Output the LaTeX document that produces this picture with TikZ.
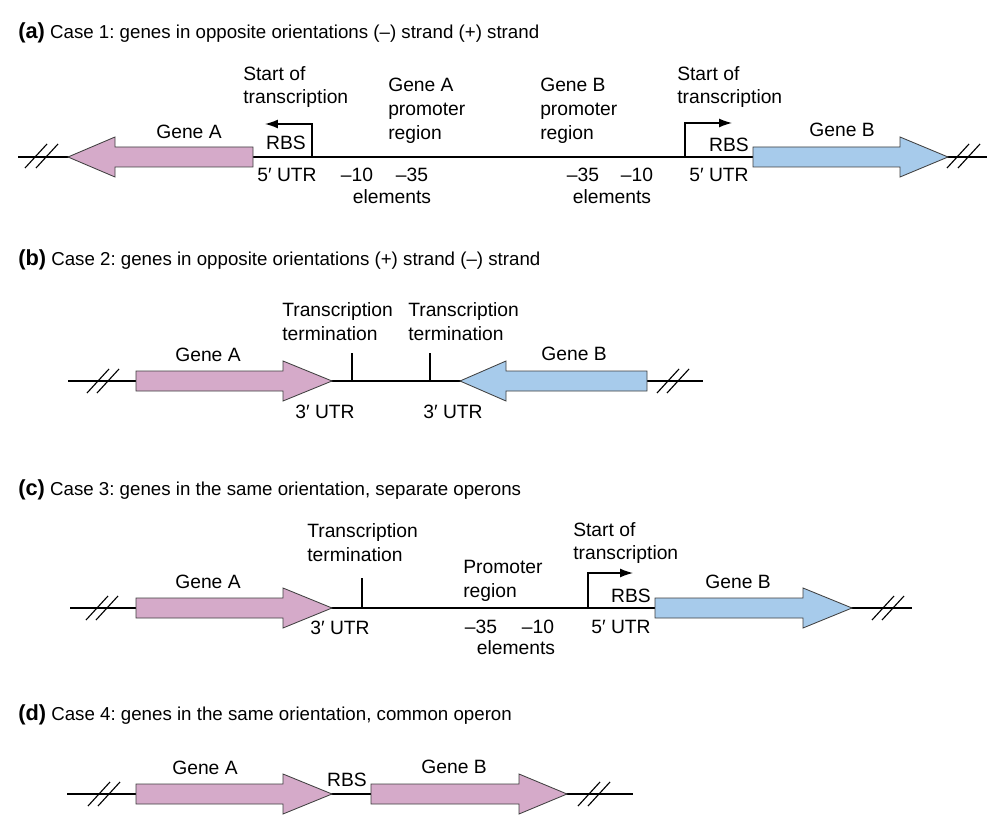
\documentclass[tikz,border=0pt]{standalone}
\usepackage{fontspec}
\setmainfont{Liberation Sans}
\usetikzlibrary{arrows.meta}
\definecolor{genepink}{RGB}{213,170,201}
\definecolor{geneblue}{RGB}{167,203,235}
\frenchspacing

\begin{document}
\begin{tikzpicture}[x=0.025cm, y=-0.025cm,
    dna/.style={line width=1pt},
    brk/.style={line width=0.8pt},
    gene/.style={draw=black!75, line width=0.6pt},
    lbl/.style={inner sep=0pt, font=\fontsize{13.7}{17}\selectfont},
    ml/.style={lbl, align=left, anchor=west},
    ttl/.style={inner sep=0pt, anchor=west, font=\fontsize{13.3}{16}\selectfont},
    tss/.style={line width=0.9pt, -{Latex[length=3.2mm,width=2.2mm]}}]
    \useasboundingbox[fill=white] (0,0) rectangle (1000,840);
    % (a)
    \node[ttl] (ta) at (18,33) {{\fontsize{15.5}{16}\selectfont\bfseries(a)} Case 1: genes in opposite orientations (--) strand (+) strand};
    \coordinate (a0) at (18,157); \coordinate (a1) at (987,157);
    \draw[dna] (a0) -- (a1);
    \draw[brk] (25,168) -- (47,144) (36,168) -- (58,144) (947,168) -- (969,144) (958,168) -- (980,144);
    \draw[gene, fill=genepink] (253,147) -- (115,147) -- (115,137) -- (68,157) -- (115,177) -- (115,167) -- (253,167) -- cycle;
    \draw[gene, fill=geneblue] (753,147) -- (900,147) -- (900,137) -- (948,157) -- (900,177) -- (900,167) -- (753,167) -- cycle;
    \coordinate (tssA) at (312,157); \coordinate (tssB) at (685,157);
    \draw[tss] (tssA) -- ++(0,-33) -- ++(-47,0);
    \draw[tss] (tssB) -- ++(0,-34) -- ++(47,0);
    \node[lbl] (geneAa) at (189,132) {Gene A};
    \node[ml] (startA) at (243,87) {Start of\\transcription};
    \node[lbl] (rbsA) at (286,143) {RBS};
    \node[lbl] (utrA) at (287,175) {5′ UTR};
    \node[lbl] (tenA) at (357,175) {--10};
    \node[lbl] (tfA) at (412,175) {--35};
    \node[lbl] (elA) at (392,197) {elements};
    \node[ml] (promA) at (388,111) {Gene A\\promoter\\region};
    \node[ml] (promB) at (540,111) {Gene B\\promoter\\region};
    \node[lbl] (tfB) at (583,175) {--35};
    \node[lbl] (tenB) at (637,175) {--10};
    \node[lbl] (elB) at (612,197) {elements};
    \node[ml] (startB) at (677,87) {Start of\\transcription};
    \node[lbl] (rbsB) at (729,145) {RBS};
    \node[lbl] (utrB) at (719,175) {5′ UTR};
    \node[lbl] (geneBa) at (842,130) {Gene B};
    % (b)
    \node[ttl] (tb) at (18,260) {{\fontsize{15.5}{16}\selectfont\bfseries(b)} Case 2: genes in opposite orientations (+) strand (--) strand};
    \coordinate (b0) at (68,381); \coordinate (b1) at (703,381);
    \draw[dna] (b0) -- (b1);
    \draw[brk] (87,393) -- (109,369) (97,393) -- (119,369) (657,393) -- (679,369) (667,393) -- (689,369);
    \draw[gene, fill=genepink] (136,371) -- (283,371) -- (283,361) -- (332,381) -- (283,401) -- (283,391) -- (136,391) -- cycle;
    \draw[gene, fill=geneblue] (647,371) -- (506,371) -- (506,361) -- (460,381) -- (506,401) -- (506,391) -- (647,391) -- cycle;
    \coordinate (termA) at (352,381); \coordinate (termB) at (430,381);
    \draw[dna] (termA) -- ++(0,-28) (termB) -- ++(0,-28);
    \node[ml] (trmA) at (282,322) {Transcription\\termination};
    \node[ml] (trmB) at (408,322) {Transcription\\termination};
    \node[lbl] (geneAb) at (208,355) {Gene A};
    \node[lbl] (geneBb) at (574,354) {Gene B};
    \node[lbl] (utrAb) at (325,412) {3′ UTR};
    \node[lbl] (utrBb) at (453,412) {3′ UTR};
    % (c)
    \node[ttl] (tc) at (18,490) {{\fontsize{15.5}{16}\selectfont\bfseries(c)} Case 3: genes in the same orientation, separate operons};
    \coordinate (c0) at (70,608); \coordinate (c1) at (912,608);
    \draw[dna] (c0) -- (c1);
    \draw[brk] (86,620) -- (108,596) (96,620) -- (118,596) (872,620) -- (894,596) (882,620) -- (904,596);
    \draw[gene, fill=genepink] (136,598) -- (283,598) -- (283,588) -- (332,608) -- (283,628) -- (283,618) -- (136,618) -- cycle;
    \draw[gene, fill=geneblue] (655,598) -- (803,598) -- (803,588) -- (852,608) -- (803,628) -- (803,618) -- (655,618) -- cycle;
    \coordinate (termC) at (362,608); \coordinate (tssC) at (588,608);
    \draw[dna] (termC) -- ++(0,-30);
    \draw[tss] (tssC) -- ++(0,-35) -- ++(45,0);
    \node[ml] (trmC) at (307,543) {Transcription\\termination};
    \node[lbl] (geneAc) at (208,582) {Gene A};
    \node[lbl] (utrAc) at (340,628) {3′ UTR};
    \node[ml] (promC) at (463,581) {Promoter\\region};
    \node[lbl] (tfC) at (481,627) {--35};
    \node[lbl] (tenC) at (538,627) {--10};
    \node[lbl] (elC) at (516,648) {elements};
    \node[ml] (startC) at (573,543) {Start of\\transcription};
    \node[lbl] (rbsC) at (631,596) {RBS};
    \node[lbl] (utrBc) at (621,627) {5′ UTR};
    \node[lbl] (geneBc) at (738,582) {Gene B};
    % (d)
    \node[ttl] (td) at (18,715) {{\fontsize{15.5}{16}\selectfont\bfseries(d)} Case 4: genes in the same orientation, common operon};
    \coordinate (d0) at (67,794); \coordinate (d1) at (633,794);
    \draw[dna] (d0) -- (d1);
    \draw[brk] (88,806) -- (110,782) (98,806) -- (120,782) (578,806) -- (600,782) (588,806) -- (610,782);
    \draw[gene, fill=genepink] (136,784) -- (283,784) -- (283,774) -- (332,794) -- (283,814) -- (283,804) -- (136,804) -- cycle;
    \draw[gene, fill=genepink] (371,784) -- (519,784) -- (519,774) -- (567,794) -- (519,814) -- (519,804) -- (371,804) -- cycle;
    \node[lbl] (geneAd) at (205,768) {Gene A};
    \node[lbl] (rbsD) at (347,780) {RBS};
    \node[lbl] (geneBd) at (454,767) {Gene B};
\end{tikzpicture}
\end{document}
